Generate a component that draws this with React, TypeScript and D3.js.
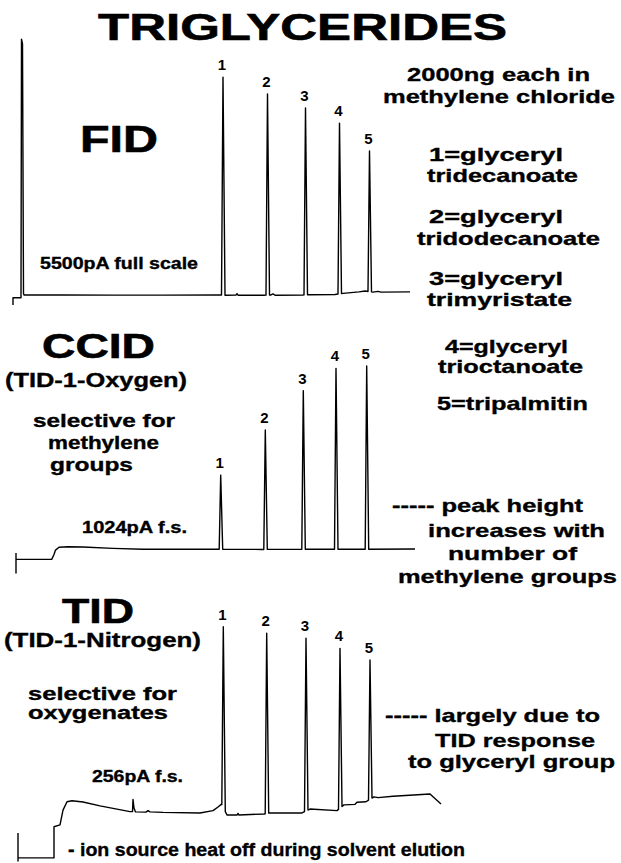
import React from 'react';
import * as d3 from 'd3';

type Pt = [number, number];
interface Peak { id: string; t: number; h: number }

// time axis (minutes, arbitrary) shared by all three traces
const timeDomain: [number, number] = [0, 40];
// signal in % of full scale
const signalDomain: [number, number] = [0, 100];

// ---------- FID ----------
const fidBaseline: Pt[] = [
  [0, -3.5], [0, -0.65], [0.8, -0.65], [0.85, 98.8], [0.95, 97], [1.05, 1.0], [1.1, 0.4],
  [5, 0.4], [10, 0.35], [15, 0.35], [20.6, 0.4], [21.3, 0.3], [22.3, 0.4], [22.4, 0.9], [22.5, 0.3],
  [25.1, 0.3], [25.8, 0.4], [26.0, 0.8], [26.2, 0.3], [29.0, 0.4], [29.6, 0.5], [32.2, 0.6],
  [33.0, 1.0], [34.6, 1.6], [35.2, 1.9], [36.0, 1.5], [36.5, 1.8], [36.8, 1.5], [39.7, 1.6],
];
const fidPeaks: Peak[] = [
  { id: '1', t: 21.0, h: 84.2 },
  { id: '2', t: 25.45, h: 77.7 },
  { id: '3', t: 29.25, h: 72.3 },
  { id: '4', t: 32.65, h: 66.5 },
  { id: '5', t: 35.65, h: 55.8 },
];

// ---------- CCID ----------
const ccidBaseline: Pt[] = [
  [0.3, 3.2], [0.3, -5.9], [0.3, 0.3], [3.87, 0.3], [4.1, 2.5], [4.25, 4.5], [4.6, 5.8],
  [5.5, 6.0], [7, 5.9], [10, 5.3], [13, 4.9], [20, 4.9], [25, 4.8], [30, 4.9], [35, 4.9], [40.2, 5.0],
];
const ccidPeaks: Peak[] = [
  { id: '1', t: 20.77, h: 38.6 },
  { id: '2', t: 25.23, h: 59.1 },
  { id: '3', t: 29.03, h: 77.0 },
  { id: '4', t: 32.3, h: 87.1 },
  { id: '5', t: 35.37, h: 88.2 },
];

// ---------- TID ----------
const tidBaseline: Pt[] = [
  [0.5, 10.4], [0.5, -0.4], [0.5, 0.8], [4.1, 0.8], [4.1, 12.8], [4.7, 13.5], [5.0, 19.2],
  [5.4, 22.4], [5.9, 22.8], [7, 22.3], [8.7, 20.8], [11.7, 18.6], [11.95, 18.6], [12.0, 23.3],
  [12.1, 20], [12.25, 18.5], [13.3, 18.4], [13.5, 19.0], [13.7, 18.5], [15, 18.3], [18.7, 18.1],
  [20.0, 19.0], [20.5, 20.4], [20.85, 21.5], [21.4, 17.3], [22.4, 17.3], [22.5, 17.9], [22.6, 17.3],
  [25.1, 17.7], [25.7, 18.1], [28.9, 18.1], [29.7, 19.6], [32.4, 19.0], [33.1, 21.2], [34.2, 21.4],
  [34.4, 22.2], [35.3, 22.4], [36.1, 24.3], [36.5, 24.0], [38, 24.5], [41.7, 25.4], [42.8, 21.5],
];
const tidPeaks: Peak[] = [
  { id: '1', t: 21.03, h: 89.7 },
  { id: '2', t: 25.37, h: 87.2 },
  { id: '3', t: 29.3, h: 85.3 },
  { id: '4', t: 32.7, h: 81.4 },
  { id: '5', t: 35.7, h: 76.9 },
];

// ---------- texts ----------
const titleText = 'TRIGLYCERIDES';
const detectorNames = ['FID', 'CCID', 'TID'];
const scaleLabels = ['5500pA full scale', '1024pA f.s.', '256pA f.s.'];
const compoundLines = [
  '2000ng each in', 'methylene chloride',
  '1=glyceryl', 'tridecanoate',
  '2=glyceryl', 'tridodecanoate',
  '3=glyceryl', 'trimyristate',
  '4=glyceryl', 'trioctanoate',
  '5=tripalmitin',
];
const ccidNotes = ['(TID-1-Oxygen)', 'selective for', 'methylene', 'groups'];
const ccidComment = ['----- peak height', 'increases with', 'number of', 'methylene groups'];
const tidNotes = ['(TID-1-Nitrogen)', 'selective for', 'oxygenates'];
const tidComment = ['----- largely due to', 'TID response', 'to glyceryl group'];
const footNote = '- ion source heat off during solvent elution';

const W = 621;
const H = 863;
const FONT = '"Liberation Sans", Arial, Helvetica, sans-serif';

const xScale = d3.scaleLinear().domain(timeDomain).range([13, 413]);

function tracePoints(baseline: Pt[], peaks: Peak[]): Pt[] {
  const pre = 0.15;
  const post = 0.2;
  const interp = (t: number) => {
    for (let i = 0; i < baseline.length - 1; i++) {
      const a = baseline[i];
      const b = baseline[i + 1];
      if (a[0] <= t && b[0] >= t && b[0] > a[0]) {
        return a[1] + ((b[1] - a[1]) * (t - a[0])) / (b[0] - a[0]);
      }
    }
    return baseline[baseline.length - 1][1];
  };
  const pts: Pt[] = baseline.filter(([t]) => !peaks.some((p) => t > p.t - pre && t < p.t + post));
  peaks.forEach((p) => {
    pts.push([p.t - pre, interp(p.t - pre)], [p.t, p.h], [p.t + post, interp(p.t + post)]);
  });
  return pts.map((p, i) => ({ p, i }))
    .sort((a, b) => a.p[0] - b.p[0] || a.i - b.i)
    .map((o) => o.p);
}

const panels = [
  { key: 'fid', baseline: fidBaseline, peaks: fidPeaks, yRange: [296, 36] as [number, number] },
  { key: 'ccid', baseline: ccidBaseline, peaks: ccidPeaks, yRange: [560, 340] as [number, number] },
  { key: 'tid', baseline: tidBaseline, peaks: tidPeaks, yRange: [860, 600] as [number, number] },
];

interface TProps { x1: number; x2: number; y: number; fs: number; sw?: number; children: string }
const T = ({ x1, x2, y, fs, sw = 0.35, children }: TProps) => (
  <text
    x={x1}
    y={y}
    fontSize={fs}
    textLength={x2 - x1}
    lengthAdjust="spacingAndGlyphs"
    fontFamily={FONT}
    fontWeight="bold"
    fill="#000"
    stroke="#000"
    strokeWidth={sw}
  >
    {children}
  </text>
);

export default function App() {
  return (
    <svg
      width={W}
      height={H}
      viewBox={`0 0 ${W} ${H}`}
      style={{ position: 'absolute', left: 0, top: 0, background: '#fff', display: 'block' }}
    >
      <rect x={0} y={0} width={W} height={H} fill="#fff" />

      {panels.map((pn) => {
        const y = d3.scaleLinear().domain(signalDomain).range(pn.yRange);
        const line = d3.line<Pt>().x((d) => xScale(d[0])).y((d) => y(d[1]));
        const pts = tracePoints(pn.baseline, pn.peaks);
        return (
          <g key={pn.key}>
            <path
              d={line(pts) || ''}
              fill="none"
              stroke="#000"
              strokeWidth={1.4}
              strokeLinejoin="round"
            />
            {pn.peaks.map((p) => (
              <text
                key={p.id}
                x={xScale(p.t) - 1}
                y={y(p.h) - 7}
                fontSize={15}
                textAnchor="middle"
                fontFamily={FONT}
                fontWeight="bold"
              >
                {p.id}
              </text>
            ))}
          </g>
        );
      })}

      {/* title */}
      <T x1={98} x2={507} y={40} fs={37} sw={0.6}>{titleText}</T>

      {/* FID */}
      <T x1={80} x2={158} y={152} fs={37} sw={0.6}>{detectorNames[0]}</T>
      <T x1={40} x2={198} y={268.5} fs={16}>{scaleLabels[0]}</T>

      {/* right column compounds */}
      <T x1={407} x2={590} y={81} fs={19}>{compoundLines[0]}</T>
      <T x1={383} x2={615} y={103} fs={19}>{compoundLines[1]}</T>
      <T x1={429} x2={563} y={161} fs={19}>{compoundLines[2]}</T>
      <T x1={427} x2={578} y={182} fs={19}>{compoundLines[3]}</T>
      <T x1={429} x2={563} y={223} fs={19}>{compoundLines[4]}</T>
      <T x1={417} x2={600} y={245} fs={19}>{compoundLines[5]}</T>
      <T x1={429} x2={563} y={285} fs={19}>{compoundLines[6]}</T>
      <T x1={427} x2={572} y={306} fs={19}>{compoundLines[7]}</T>
      <T x1={445} x2={568} y={353} fs={19}>{compoundLines[8]}</T>
      <T x1={438} x2={583} y={373} fs={19}>{compoundLines[9]}</T>
      <T x1={437} x2={588} y={410} fs={19}>{compoundLines[10]}</T>

      {/* CCID */}
      <T x1={42} x2={155} y={358} fs={35} sw={0.6}>{detectorNames[1]}</T>
      <T x1={5} x2={187} y={386.5} fs={20}>{ccidNotes[0]}</T>
      <T x1={33} x2={175} y={427} fs={18}>{ccidNotes[1]}</T>
      <T x1={48} x2={159} y={449} fs={18}>{ccidNotes[2]}</T>
      <T x1={50} x2={133} y={471} fs={18}>{ccidNotes[3]}</T>
      <T x1={82} x2={187} y={533} fs={16}>{scaleLabels[1]}</T>
      <T x1={392} x2={583} y={512} fs={19}>{ccidComment[0]}</T>
      <T x1={428} x2={605} y={537} fs={19}>{ccidComment[1]}</T>
      <T x1={448} x2={577} y={560} fs={19}>{ccidComment[2]}</T>
      <T x1={398} x2={617} y={583} fs={19}>{ccidComment[3]}</T>

      {/* TID */}
      <T x1={62} x2={134} y={623} fs={35} sw={0.6}>{detectorNames[2]}</T>
      <T x1={4} x2={201} y={647} fs={20}>{tidNotes[0]}</T>
      <T x1={28} x2={177} y={699.5} fs={18}>{tidNotes[1]}</T>
      <T x1={28} x2={168} y={718.5} fs={18}>{tidNotes[2]}</T>
      <T x1={92} x2={183} y={782} fs={16}>{scaleLabels[2]}</T>
      <T x1={385} x2={600} y={722} fs={19}>{tidComment[0]}</T>
      <T x1={435} x2={595} y={747} fs={19}>{tidComment[1]}</T>
      <T x1={408} x2={615} y={768} fs={19}>{tidComment[2]}</T>
      <T x1={68} x2={465} y={856} fs={18}>{footNote}</T>
    </svg>
  );
}
